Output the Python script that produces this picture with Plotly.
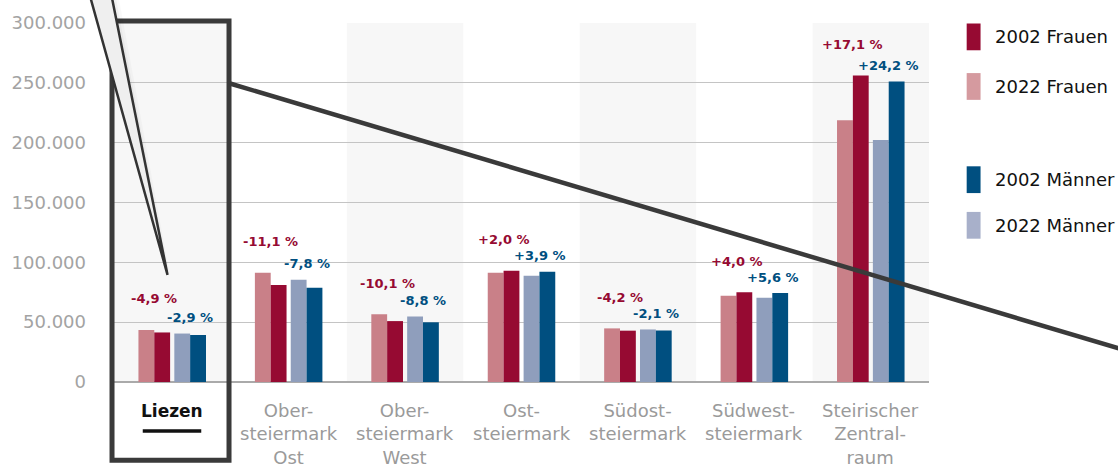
import plotly.graph_objects as go

# ---------------- data ----------------
categories = ["Liezen", "Ober-<br>steiermark<br>Ost", "Ober-<br>steiermark<br>West",
              "Ost-<br>steiermark", "Südost-<br>steiermark", "Südwest-<br>steiermark",
              "Steirischer<br>Zentral-<br>raum"]
frauen_a = [43500, 91200, 56600, 91200, 44800, 72100, 218800]   # light pink bars
frauen_b = [41400, 81100, 50900, 93000, 42900, 75000, 256200]   # dark red bars
maenner_a = [40500, 85400, 54700, 88700, 43900, 70400, 202200]  # light blue-grey bars
maenner_b = [39300, 78700, 49900, 92200, 43000, 74300, 251100]  # dark blue bars
pct_frauen = ["-4,9 %", "-11,1 %", "-10,1 %", "+2,0 %", "-4,2 %", "+4,0 %", "+17,1 %"]
pct_maenner = ["-2,9 %", "-7,8 %", "-8,8 %", "+3,9 %", "-2,1 %", "+5,6 %", "+24,2 %"]
legend_labels = ["2002 Frauen", "2022 Frauen", "2002 Männer", "2022 Männer"]
y_ticks = [0, 50000, 100000, 150000, 200000, 250000, 300000]

# ---------------- style ----------------
W, H = 1118, 466
L, R, T, B = 107, 929, 20, 382  # plot area in pixels
FONT = "DejaVu Sans"
C_PINK, C_RED, C_GREY, C_BLUE = "#c98088", "#960a32", "#8f9ebc", "#004f80"
LEG_COLORS = ["#960a32", "#d59a9f", "#004f80", "#a8b0ca"]
BAR_W = 0.136
OFFS = [-0.29, -0.154, 0.018, 0.154]


def px(x):
    return (x - L) / (R - L)


def py(y):
    return (B - y) / (B - T)


xs = list(range(len(categories)))
fig = go.Figure()
for vals, col, off in zip([frauen_a, frauen_b, maenner_a, maenner_b],
                          [C_PINK, C_RED, C_GREY, C_BLUE], OFFS):
    fig.add_trace(go.Bar(x=xs, y=vals, offset=off, width=BAR_W, marker_color=col,
                         marker_line_width=0, showlegend=False, hoverinfo="skip"))

shapes = []
# alternating background bands
for i in xs:
    if i % 2 == 0:
        shapes.append(dict(type="rect", xref="x", yref="y", x0=i - 0.5, x1=i + 0.5,
                           y0=0, y1=y_ticks[-1], fillcolor="#f7f7f7", line_width=0,
                           layer="below"))

annotations = []
# percent labels
for i in xs:
    top_all = max(frauen_a[i], frauen_b[i], maenner_a[i], maenner_b[i])
    top_m = max(maenner_a[i], maenner_b[i])
    annotations.append(dict(x=i - 0.154, y=top_all, xref="x", yref="y", text="<b>%s</b>" % pct_frauen[i],
                            showarrow=False, yanchor="middle", yshift=31,
                            font=dict(family=FONT, size=13, color=C_RED)))
    annotations.append(dict(x=i + 0.154, y=top_m, xref="x", yref="y", text="<b>%s</b>" % pct_maenner[i],
                            showarrow=False, yanchor="middle", yshift=16,
                            font=dict(family=FONT, size=13, color=C_BLUE)))
# category labels
for i, c in enumerate(categories):
    if i == 0:
        annotations.append(dict(x=i, y=py(399), xref="x", yref="paper", text="<b>%s</b>" % c,
                                showarrow=False, yanchor="top",
                                font=dict(family=FONT, size=17, color="#111111")))
    else:
        annotations.append(dict(x=i, y=py(398), xref="x", yref="paper", text=c,
                                showarrow=False, yanchor="top",
                                font=dict(family=FONT, size=18, color="#9a9a9a")))
# underline below Liezen
shapes.append(dict(type="line", xref="paper", yref="paper", x0=px(136), x1=px(195),
                   y0=py(431.5), y1=py(431.5), line=dict(color="#111111", width=3.5)))

# legend (custom)
leg_y = [34, 84, 178, 224]
for lab, col, yc in zip(legend_labels, LEG_COLORS, leg_y):
    shapes.append(dict(type="rect", xref="paper", yref="paper", x0=px(967), x1=px(981),
                       y0=py(yc + 13.5), y1=py(yc - 13.5), fillcolor=col, line_width=0))
    annotations.append(dict(x=px(994), y=py(yc), xref="paper", yref="paper", text=lab,
                            showarrow=False, xanchor="left", yanchor="middle",
                            font=dict(family=FONT, size=18, color="#111111")))

# highlight box around Liezen
shapes.append(dict(type="rect", xref="paper", yref="paper", x0=px(105), x1=px(223),
                   y0=py(461), y1=py(18), line=dict(color="#3a3a3a", width=5),
                   fillcolor="rgba(0,0,0,0)"))
# diagonal line
shapes.append(dict(type="line", xref="paper", yref="paper", x0=px(224), y0=py(81),
                   x1=px(1130), y1=py(351), line=dict(color="#3a3a3a", width=4.5)))


# callout spike (soft shadow + body)
def path(pts):
    return "M " + " L ".join("%f,%f" % (px(a), py(b)) for a, b in pts) + " Z"


for dx, alpha in [(7, 0.025), (4, 0.035)]:
    shapes.append(dict(type="path", xref="paper", yref="paper",
                       path=path([(82, -10), (104 + dx, -10), (161 + dx * 0.4, 276)]),
                       fillcolor="rgba(0,0,0,%s)" % alpha, line_width=0))
shapes.append(dict(type="path", xref="paper", yref="paper",
                   path=path([(82, -10), (104, -10), (161, 274)]),
                   fillcolor="#efefef", line=dict(color="#333333", width=2.5)))

fig.update_layout(
    width=W, height=H,
    margin=dict(l=L, r=W - R, t=T, b=H - B),
    paper_bgcolor="white", plot_bgcolor="white",
    barmode="overlay", separators=",.",
    font=dict(family=FONT),
    hovermode=False,
    xaxis=dict(range=[-0.5, len(categories) - 0.5], showticklabels=False, showgrid=False,
               zeroline=False, showline=False, fixedrange=True),
    yaxis=dict(range=[0, y_ticks[-1]], tickvals=y_ticks, tickformat=",d",
               showgrid=True, gridcolor="#c4c4c4", gridwidth=1.2,
               zeroline=True, zerolinecolor="#aaaaaa", zerolinewidth=1.5,
               showline=False, ticks="", ticklabelstandoff=27, fixedrange=True,
               tickfont=dict(family=FONT, size=18, color="#a3a3a3")),
    shapes=shapes, annotations=annotations,
)
fig.write_html("out.html", config={"displayModeBar": False},
               post_script="document.body.style.margin='0';document.body.style.overflow='hidden';")
